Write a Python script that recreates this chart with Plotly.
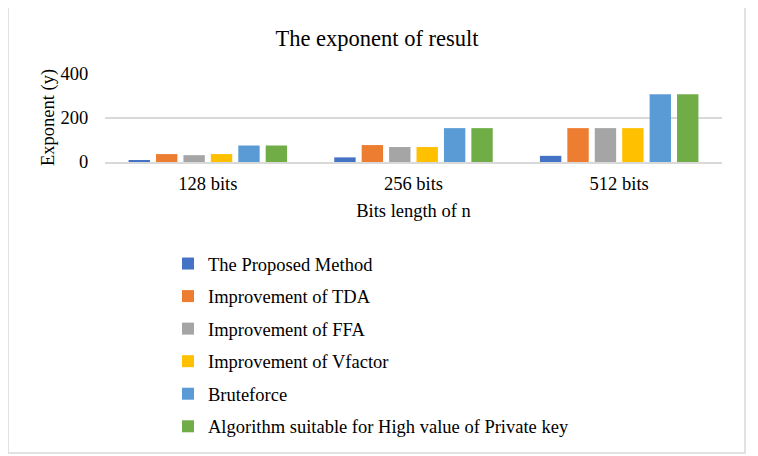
import plotly.graph_objects as go

categories = ["128 bits", "256 bits", "512 bits"]
series_names = [
    "The Proposed Method",
    "Improvement of TDA",
    "Improvement of FFA",
    "Improvement of Vfactor",
    "Bruteforce",
    "Algorithm suitable for High value of Private key",
]
proposed = [8, 21, 28]
tda = [36, 77, 154]
ffa = [31, 68, 154]
vfactor = [36, 68, 154]
bruteforce = [75, 154, 308]
high_private = [75, 154, 308]
series_values = [proposed, tda, ffa, vfactor, bruteforce, high_private]
colors = ["#4472C4", "#ED7D31", "#A5A5A5", "#FFC000", "#5B9BD5", "#70AD47"]
y_ticks = [0, 200, 400]

FONT = "Liberation Serif"
FS = 18.5

fig = go.Figure()
for i, (name, vals, col) in enumerate(zip(series_names, series_values, colors)):
    fig.add_trace(go.Bar(
        x=categories, y=vals, name=name, marker_color=col,
        marker_line_width=0, legendgroup=f"g{i}",
    ))

# page body adds an 8px margin, so the figure is 750x448 offset by (8, 8)
W, H = 750, 448
L, R, T, B = 97, 36, 66, 294
pw = W - L - R
ph = H - T - B

def px_x(x):
    return (x - L) / pw

def px_y(y):
    return (H - B - y) / ph

fig.update_layout(
    width=W, height=H,
    margin=dict(l=L, r=R, t=T, b=B, autoexpand=False),
    paper_bgcolor="white", plot_bgcolor="white",
    font=dict(family=FONT, size=FS, color="#000000"),
    barmode="group", bargap=0.2, bargroupgap=0.22,
    title=dict(text="The exponent of result", x=369 / W, xanchor="center",
               xref="container", y=1 - 30 / H, yanchor="middle",
               font=dict(family=FONT, size=22.5, color="#000000")),
    xaxis=dict(
        title=dict(text="Bits length of n", font=dict(family=FONT, size=FS), standoff=11),
        showgrid=False, showline=True, linecolor="#D9D9D9", linewidth=2,
        ticks="outside", ticklen=4, tickcolor="rgba(0,0,0,0)",
        tickfont=dict(family=FONT, size=FS),
    ),
    yaxis=dict(
        range=[0, 400], tickvals=y_ticks, showgrid=True, gridcolor="#D9D9D9",
        gridwidth=2, zeroline=False, showline=False,
        ticks="outside", ticklen=12, tickcolor="rgba(0,0,0,0)",
        tickfont=dict(family=FONT, size=FS),
    ),
    legend=dict(
        xref="container", yref="container",
        x=160 / W, xanchor="left", y=1 - 237 / H, yanchor="top",
        orientation="v", tracegroupgap=5.5, font=dict(family=FONT, size=FS),
        bgcolor="rgba(0,0,0,0)", itemwidth=30,
    ),
    annotations=[dict(text="Exponent (y)", textangle=-90, showarrow=False,
                      xref="paper", yref="paper", x=px_x(40), y=0.5,
                      xanchor="center", yanchor="middle",
                      font=dict(family=FONT, size=FS, color="#000000"))],
    shapes=[dict(type="rect", xref="paper", yref="paper",
                 x0=px_x(0), x1=px_x(737), y0=px_y(445), y1=px_y(-2),
                 line=dict(color="#D9D9D9", width=1.5), fillcolor="rgba(0,0,0,0)",
                 layer="below")],
)

fig.write_html("out.html")
